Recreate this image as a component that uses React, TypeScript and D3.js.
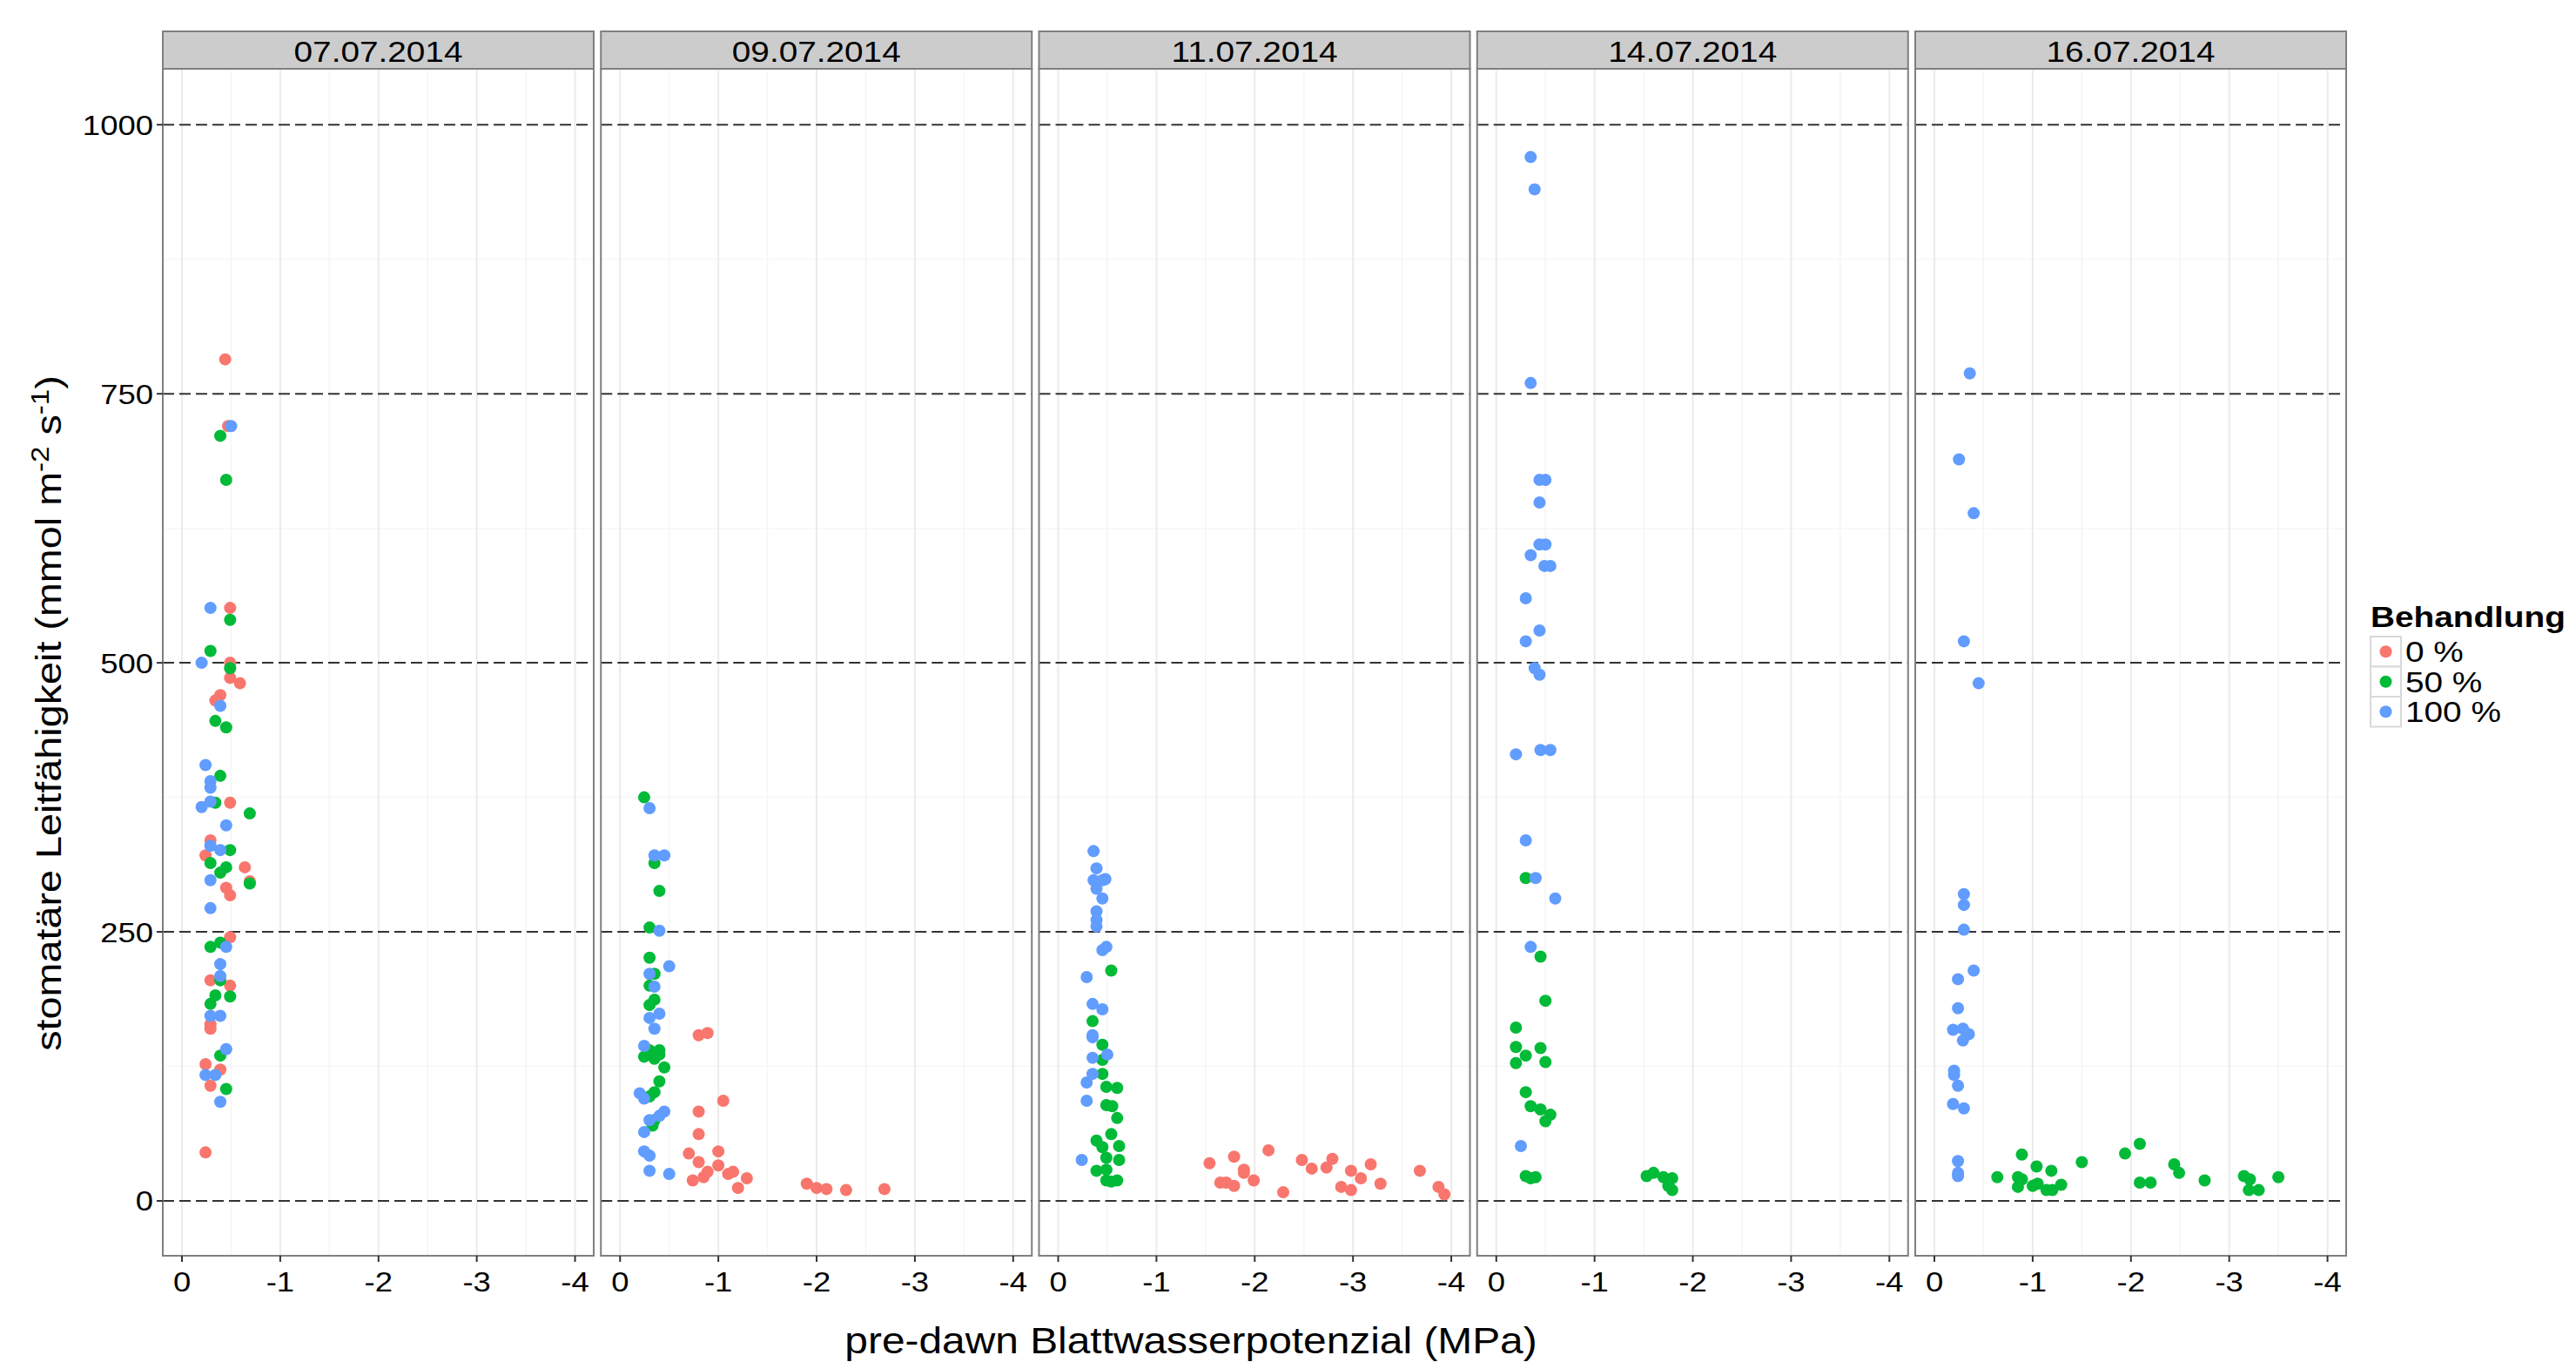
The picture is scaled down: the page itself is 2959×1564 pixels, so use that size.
import React from 'react';
import * as d3 from 'd3';

const W = 2959;
const H = 1564;

const dates = ['07.07.2014', '09.07.2014', '11.07.2014', '14.07.2014', '16.07.2014'];
const treatments = ['0 %', '50 %', '100 %'];
const colors = ['#F8766D', '#00BA38', '#619CFF'];
const xTicks = [0, -1, -2, -3, -4];
const xMinor = [-0.5, -1.5, -2.5, -3.5];
const yTicks = [0, 250, 500, 750, 1000];
const yMinor = [125, 375, 625, 875];

// [pre-dawn leaf water potential (MPa), stomatal conductance (mmol m-2 s-1)]
const d0707_0 = [[-0.44,782],[-0.47,720],[-0.49,551],[-0.49,500],[-0.49,486],[-0.59,481],[-0.39,470],[-0.34,465],[-0.49,370],[-0.29,335],[-0.24,321],[-0.64,310],[-0.69,297],[-0.45,291],[-0.49,284],[-0.49,245],[-0.29,205],[-0.49,200],[-0.29,164],[-0.29,160],[-0.24,127],[-0.39,122],[-0.29,107],[-0.24,45]];
const d0707_50 = [[-0.39,711],[-0.45,670],[-0.49,540],[-0.29,511],[-0.49,495],[-0.34,446],[-0.45,440],[-0.39,395],[-0.34,370],[-0.69,360],[-0.49,326],[-0.29,314],[-0.45,310],[-0.39,305],[-0.69,295],[-0.29,236],[-0.39,240],[-0.39,205],[-0.34,191],[-0.49,190],[-0.29,183],[-0.39,135],[-0.45,104]];
const d0707_100 = [[-0.5,720],[-0.29,551],[-0.2,500],[-0.39,460],[-0.24,405],[-0.29,390],[-0.29,384],[-0.29,371],[-0.2,366],[-0.45,349],[-0.29,330],[-0.39,326],[-0.29,298],[-0.29,272],[-0.45,236],[-0.39,220],[-0.39,209],[-0.29,172],[-0.39,172],[-0.45,141],[-0.24,117],[-0.34,117],[-0.39,92]];

const d0907_0 = [[-0.8,154],[-0.89,156],[-1.05,93],[-0.8,83],[-0.8,62],[-0.7,44],[-1.0,46],[-0.8,36],[-1.0,33],[-0.89,27],[-0.85,22],[-0.74,19],[-1.1,25],[-1.15,27],[-1.29,21],[-1.2,12],[-1.9,16],[-2.0,12],[-2.1,11],[-2.3,10],[-2.69,11]];
const d0907_50 = [[-0.245,375],[-0.35,314],[-0.4,288],[-0.3,254],[-0.3,226],[-0.35,211],[-0.3,200],[-0.35,187],[-0.3,182],[-0.3,140],[-0.4,140],[-0.245,134],[-0.35,132],[-0.4,136],[-0.45,124],[-0.4,111],[-0.35,101],[-0.3,97],[-0.35,75],[-0.33,70]];
const d0907_100 = [[-0.3,365],[-0.35,321],[-0.45,321],[-0.4,251],[-0.5,218],[-0.3,211],[-0.35,199],[-0.3,170],[-0.4,174],[-0.35,160],[-0.245,144],[-0.2,100],[-0.245,95],[-0.45,83],[-0.3,75],[-0.4,79],[-0.245,64],[-0.245,46],[-0.3,42],[-0.3,28],[-0.5,25]];

const d1107_0 = [[-1.54,35],[-1.79,41],[-2.14,47],[-1.89,29],[-1.89,26],[-1.65,17],[-1.71,17],[-1.79,14],[-1.99,19],[-2.29,8],[-2.48,38],[-2.58,30],[-2.73,31],[-2.79,39],[-2.98,28],[-3.18,34],[-3.08,21],[-2.88,13],[-2.98,10],[-3.28,16],[-3.68,28],[-3.87,13],[-3.93,6]];
const d1107_50 = [[-0.54,214],[-0.35,167],[-0.45,145],[-0.45,131],[-0.45,118],[-0.49,106],[-0.6,105],[-0.49,89],[-0.55,88],[-0.6,77],[-0.54,62],[-0.39,56],[-0.45,50],[-0.62,51],[-0.49,40],[-0.62,38],[-0.39,28],[-0.49,29],[-0.49,19],[-0.54,18],[-0.6,19]];
const d1107_100 = [[-0.36,325],[-0.39,309],[-0.36,298],[-0.48,299],[-0.45,298],[-0.39,290],[-0.45,281],[-0.39,269],[-0.39,261],[-0.39,255],[-0.45,233],[-0.49,236],[-0.29,208],[-0.35,183],[-0.45,178],[-0.35,154],[-0.35,152],[-0.35,133],[-0.5,136],[-0.35,118],[-0.29,110],[-0.29,93],[-0.24,38]];

const d1407_0: number[][] = [];
const d1407_50 = [[-0.3,300],[-0.45,227],[-0.5,186],[-0.2,161],[-0.2,143],[-0.45,142],[-0.3,135],[-0.2,128],[-0.5,129],[-0.3,101],[-0.35,88],[-0.45,85],[-0.55,80],[-0.5,74],[-0.3,23],[-0.35,21],[-0.4,22],[-1.53,23],[-1.6,26],[-1.7,22],[-1.79,21],[-1.75,14],[-1.79,10]];
const d1407_100 = [[-0.35,970],[-0.39,940],[-0.35,760],[-0.44,670],[-0.5,670],[-0.44,649],[-0.44,610],[-0.5,610],[-0.35,600],[-0.49,590],[-0.55,590],[-0.3,560],[-0.44,530],[-0.3,520],[-0.39,495],[-0.44,489],[-0.2,415],[-0.45,419],[-0.55,419],[-0.3,335],[-0.4,300],[-0.6,281],[-0.35,236],[-0.25,51]];

const d1607_0: number[][] = [];
const d1607_50 = [[-0.64,22],[-0.89,43],[-0.85,22],[-0.89,20],[-0.85,13],[-1.04,32],[-1.0,14],[-1.05,16],[-1.19,28],[-1.14,10],[-1.2,10],[-1.29,15],[-1.5,36],[-1.94,44],[-2.09,53],[-2.09,17],[-2.2,17],[-2.44,34],[-2.49,26],[-2.75,19],[-3.15,23],[-3.21,20],[-3.2,10],[-3.3,10],[-3.5,22]];
const d1607_100 = [[-0.36,769],[-0.25,689],[-0.4,639],[-0.3,520],[-0.45,481],[-0.3,285],[-0.3,275],[-0.3,252],[-0.4,214],[-0.24,206],[-0.24,179],[-0.19,159],[-0.29,160],[-0.35,155],[-0.29,149],[-0.2,121],[-0.2,117],[-0.24,107],[-0.19,90],[-0.3,86],[-0.24,37],[-0.24,26],[-0.24,23]];

const panelData = [
  [d0707_0, d0707_50, d0707_100],
  [d0907_0, d0907_50, d0907_100],
  [d1107_0, d1107_50, d1107_100],
  [d1407_0, d1407_50, d1407_100],
  [d1607_0, d1607_50, d1607_100],
];

// layout
const panelX0 = 187;
const panelW = 495;
const panelStep = 503.25;
const stripTop = 36;
const panelTop = 79;
const panelBottom = 1442;
const SX = 1.14; // glyphs in the reference are a bit wider than Arial
const FONT = "'Liberation Sans', Arial, Helvetica, sans-serif";

const x = d3.scaleLinear().domain([0.195, -4.19]).range([0, panelW]);
const y = d3.scaleLinear().domain([-51, 1052]).range([panelBottom, panelTop]);

const T = ({ x, y, size, anchor = 'start', rot = 0, weight = 'normal', children }: any) => (
  <g transform={`translate(${x},${y}) rotate(${rot}) scale(${SX},1)`}>
    <text fontSize={size} textAnchor={anchor} fontWeight={weight} fontFamily={FONT} fill="#000">
      {children}
    </text>
  </g>
);

const Panel = ({ i }: { i: number }) => {
  const left = panelX0 + i * panelStep;
  return (
    <g transform={`translate(${left},0)`}>
      <rect x={0} y={panelTop} width={panelW} height={panelBottom - panelTop} fill="#fff" />
      {yMinor.map((v) => (
        <line key={'ym' + v} x1={0} x2={panelW} y1={y(v)} y2={y(v)} stroke="#F7F7F7" strokeWidth={1.5} />
      ))}
      {xMinor.map((v) => (
        <line key={'xm' + v} x1={x(v)} x2={x(v)} y1={panelTop} y2={panelBottom} stroke="#F5F5F5" strokeWidth={1.5} />
      ))}
      {xTicks.map((v) => (
        <line key={'xg' + v} x1={x(v)} x2={x(v)} y1={panelTop} y2={panelBottom} stroke="#EBEBEB" strokeWidth={2} />
      ))}
      {yTicks.map((v) => (
        <line key={'hl' + v} x1={0} x2={panelW} y1={y(v)} y2={y(v)} stroke="#333" strokeWidth={2} strokeDasharray="13 6" />
      ))}
      {panelData[i].map((series, s) =>
        series.map((d, k) => (
          <circle key={s + '-' + k} cx={x(d[0])} cy={y(d[1])} r={7} fill={colors[s]} />
        ))
      )}
      <rect x={0} y={panelTop} width={panelW} height={panelBottom - panelTop} fill="none" stroke="#7F7F7F" strokeWidth={2} />
      <rect x={0} y={stripTop} width={panelW} height={panelTop - stripTop} fill="#CCCCCC" stroke="#7F7F7F" strokeWidth={2} />
      <T x={panelW / 2} y={stripTop + 35} size={34} anchor="middle">{dates[i]}</T>
      {xTicks.map((v) => (
        <g key={'xt' + v}>
          <line x1={x(v)} x2={x(v)} y1={panelBottom} y2={panelBottom + 7} stroke="#333" strokeWidth={2} />
          <T x={x(v)} y={1483} size={32} anchor="middle">{String(v)}</T>
        </g>
      ))}
    </g>
  );
};

export default function App() {
  return (
    <svg width={W} height={H} style={{ position: 'absolute', left: 0, top: 0, background: '#fff' }}>
      <rect width={W} height={H} fill="#fff" />
      {dates.map((d, i) => (
        <Panel key={d} i={i} />
      ))}
      {yTicks.map((v) => (
        <g key={'yt' + v}>
          <line x1={panelX0 - 7} x2={panelX0} y1={y(v)} y2={y(v)} stroke="#333" strokeWidth={2} />
          <T x={176} y={y(v) + 11.5} size={32} anchor="end">{String(v)}</T>
        </g>
      ))}
      <T x={1368} y={1554} size={42} anchor="middle">pre-dawn Blattwasserpotenzial (MPa)</T>
      <T x={70} y={819} size={41} anchor="middle" rot={-90}>
        <tspan>stomatäre Leitfähigkeit (mmol m</tspan>
        <tspan fontSize={29} dy={-14}>-2</tspan>
        <tspan dy={14}> s</tspan>
        <tspan fontSize={29} dy={-14}>-1</tspan>
        <tspan dy={14}>)</tspan>
      </T>
      <T x={2723} y={720} size={34} weight="bold">Behandlung</T>
      {treatments.map((t, s) => {
        const top = 731 + s * 34.5;
        return (
          <g key={t}>
            <rect x={2723} y={top} width={35} height={34.5} fill="#fff" stroke="#D9D9D9" strokeWidth={2} />
            <circle cx={2740.5} cy={top + 17.25} r={7} fill={colors[s]} />
            <T x={2763} y={top + 17.25 + 12} size={34}>{t}</T>
          </g>
        );
      })}
    </svg>
  );
}
